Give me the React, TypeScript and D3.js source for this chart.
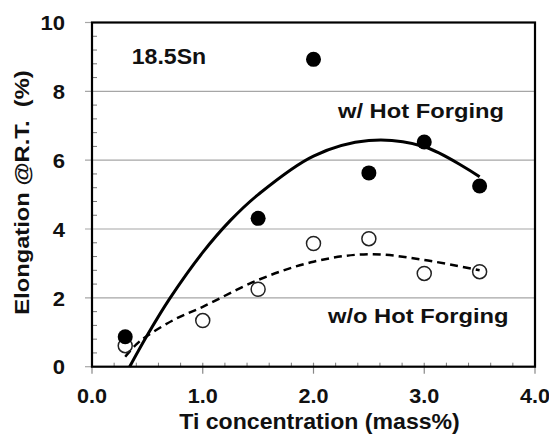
import * as d3 from "d3";
import { useEffect, useRef } from "react";

const filledTi = [0.3, 1.5, 2.0, 2.5, 3.0, 3.5];
const filledElong = [0.87, 4.31, 8.93, 5.63, 6.53, 5.25];
const openTi = [0.3, 1.0, 1.5, 2.0, 2.5, 3.0, 3.5];
const openElong = [0.61, 1.34, 2.25, 3.58, 3.72, 2.71, 2.76];

// trend lines
const fitWithTi = [0.34, 0.5, 0.7, 1.0, 1.25, 1.5, 2.0, 2.5, 3.0, 3.5];
const fitWith = [0, 0.92, 1.97, 3.32, 4.25, 5.0, 6.12, 6.57, 6.39, 5.52];
const fitWithoutTi = [0.3, 0.4, 0.5, 0.75, 1.0, 1.5, 2.0, 2.5, 3.0, 3.5];
const fitWithout = [0.29, 0.65, 0.9, 1.38, 1.74, 2.52, 3.05, 3.27, 3.1, 2.8];

const xTickLabels = ["0.0", "1.0", "2.0", "3.0", "4.0"];
const yTickLabels = ["0", "2", "4", "6", "8", "10"];

const FONT = "'Liberation Sans', Arial, Helvetica, sans-serif";

export default function App() {
  const ref = useRef<SVGSVGElement>(null);

  useEffect(() => {
    const width = 549,
      height = 436;
    const margin = { top: 22.5, right: 14, bottom: 69.3, left: 92 };

    const svg = d3.select(ref.current);
    svg.selectAll("*").remove();

    const x = d3
      .scaleLinear()
      .domain([0, 4])
      .range([margin.left, width - margin.right]);
    const y = d3
      .scaleLinear()
      .domain([0, 10])
      .range([height - margin.bottom, margin.top]);

    const x0 = x.range()[0],
      x1 = x.range()[1];
    const yb = y.range()[0],
      yt = y.range()[1];

    svg.append("rect").attr("width", width).attr("height", height).attr("fill", "#fff");

    // gridlines + major y ticks
    svg
      .append("g")
      .selectAll("line")
      .data(yTickLabels.map(Number))
      .enter()
      .append("line")
      .attr("x1", x0 - 7)
      .attr("x2", (d) => (d === 0 || d === 10 ? x0 : x1))
      .attr("y1", (d) => y(d))
      .attr("y2", (d) => y(d))
      .attr("stroke", "#a6a6a6")
      .attr("stroke-width", 1.2);

    // minor y ticks every 0.4
    const yMinor = d3.range(0.4, 10, 0.4).filter((v) => Math.abs(v / 2 - Math.round(v / 2)) > 0.01);
    svg
      .append("g")
      .selectAll("line")
      .data(yMinor)
      .enter()
      .append("line")
      .attr("x1", x0)
      .attr("x2", x0 + 5)
      .attr("y1", (d) => y(d))
      .attr("y2", (d) => y(d))
      .attr("stroke", "#777")
      .attr("stroke-width", 1);

    // minor x ticks every 0.2
    const xMinor = d3.range(0.2, 4, 0.2).filter((v) => Math.abs(v - Math.round(v)) > 0.01);
    svg
      .append("g")
      .selectAll("line")
      .data(xMinor)
      .enter()
      .append("line")
      .attr("x1", (d) => x(d))
      .attr("x2", (d) => x(d))
      .attr("y1", yb - 4)
      .attr("y2", yb)
      .attr("stroke", "#777")
      .attr("stroke-width", 1);

    // major x ticks
    svg
      .append("g")
      .selectAll("line")
      .data(xTickLabels.map(Number))
      .enter()
      .append("line")
      .attr("x1", (d) => x(d))
      .attr("x2", (d) => x(d))
      .attr("y1", yb - 4)
      .attr("y2", yb + 7)
      .attr("stroke", "#888")
      .attr("stroke-width", 1.2);

    // plot frame
    svg
      .append("rect")
      .attr("x", x0)
      .attr("y", yt)
      .attr("width", x1 - x0)
      .attr("height", yb - yt)
      .attr("fill", "none")
      .attr("stroke", "#000")
      .attr("stroke-width", 2.2);

    // trend lines
    const line = d3
      .line<[number, number]>()
      .x((d) => x(d[0]))
      .y((d) => y(d[1]))
      .curve(d3.curveCatmullRom.alpha(0.5));

    svg
      .append("path")
      .attr("d", line(fitWithTi.map((t, i) => [t, fitWith[i]])))
      .attr("fill", "none")
      .attr("stroke", "#000")
      .attr("stroke-width", 3);

    svg
      .append("path")
      .attr("d", line(fitWithoutTi.map((t, i) => [t, fitWithout[i]])))
      .attr("fill", "none")
      .attr("stroke", "#000")
      .attr("stroke-width", 2.5)
      .attr("stroke-dasharray", "8,5");

    // points
    svg
      .append("g")
      .selectAll("circle")
      .data(openTi.map((t, i) => [t, openElong[i]]))
      .enter()
      .append("circle")
      .attr("cx", (d) => x(d[0]))
      .attr("cy", (d) => y(d[1]))
      .attr("r", 7)
      .attr("fill", "none")
      .attr("stroke", "#222")
      .attr("stroke-width", 1.5);

    svg
      .append("g")
      .selectAll("circle")
      .data(filledTi.map((t, i) => [t, filledElong[i]]))
      .enter()
      .append("circle")
      .attr("cx", (d) => x(d[0]))
      .attr("cy", (d) => y(d[1]))
      .attr("r", 7.5)
      .attr("fill", "#000");

    const txt = (
      s: string,
      tx: number,
      ty: number,
      size: number,
      sx: number,
      anchor = "start",
      rot = 0
    ) =>
      svg
        .append("text")
        .attr("transform", `translate(${tx},${ty}) rotate(${rot}) scale(${sx},1)`)
        .attr("text-anchor", anchor)
        .attr("font-family", FONT)
        .attr("font-weight", "bold")
        .attr("font-size", size)
        .attr("fill", "#111")
        .text(s);

    // tick labels
    xTickLabels.forEach((l) => txt(l, x(+l), 403.3, 21, 1.03, "middle"));
    yTickLabels.forEach((l) => txt(l, 65, y(+l) + 7.7, 21, 1.05, "end"));

    // axis titles
    txt("Ti concentration (mass%)", 319.5, 428.5, 22, 1.05, "middle");
    txt("Elongation @R.T.  (%)", 29, 192.5, 21, 1.13, "middle", -90).attr(
      "style",
      "white-space: pre"
    );

    // annotations
    txt("18.5Sn", 131.7, 64.3, 22, 1.05);
    txt("w/ Hot Forging", 338, 118.3, 21, 1.13);
    txt("w/o Hot Forging", 328, 323.3, 21, 1.13);
  }, []);

  return (
    <svg
      ref={ref}
      width={549}
      height={436}
      style={{ position: "absolute", left: 0, top: 0, display: "block" }}
    />
  );
}
